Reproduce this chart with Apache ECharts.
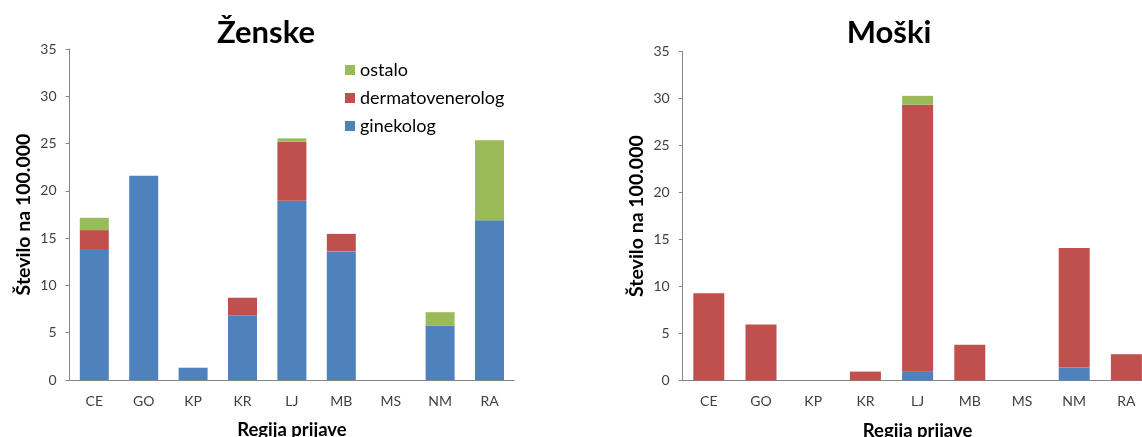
<!DOCTYPE html>
<html><head><meta charset="utf-8">
<script src="https://cdn.jsdelivr.net/npm/echarts@6/dist/echarts.min.js"></script>
<style>html,body{margin:0;padding:0;background:#fff}#c{width:1142px;height:437px}</style>
</head><body><div id="c"></div>
<script>
const categories = ['CE','GO','KP','KR','LJ','MB','MS','NM','RA'];
const seriesNames = ['ginekolog','dermatovenerolog','ostalo'];
// Ženske
const zGinekolog = [13.85, 21.6, 1.3, 6.8, 18.95, 13.6, 0, 5.75, 16.9];
const zDerm      = [2.0, 0, 0, 1.9, 6.25, 1.85, 0, 0, 0];
const zOstalo    = [1.3, 0, 0, 0, 0.35, 0, 0, 1.42, 8.45];
// Moški
const mGinekolog = [0, 0, 0, 0, 1.0, 0, 0, 1.4, 0];
const mDerm      = [9.3, 5.95, 0, 0.95, 28.35, 3.8, 0, 12.7, 2.8];
const mOstalo    = [0, 0, 0, 0, 0.95, 0, 0, 0, 0];
const titles = ['Ženske','Moški'];
const yName = 'Število na 100.000';
const xName = 'Regija prijave';

const colors = {ginekolog:'#4F81BD', dermatovenerolog:'#C0504D', ostalo:'#9BBB59'};
const font = 'Lato, "Open Sans", sans-serif';

function xAxis(i){
  return {gridIndex:i, type:'category', data:categories,
    axisLine:{lineStyle:{color:'#868686'}}, axisTick:{show:false},
    axisLabel:{color:'#404040', fontSize:14, fontFamily:font, margin:14},
    name:xName, nameLocation:'middle', nameGap:41,
    nameTextStyle:{fontWeight:'bold', fontSize:18.5, color:'#000', fontFamily:font}};
}
function yAxis(i){
  return {gridIndex:i, type:'value', min:0, max:35, interval:5,
    axisLine:{show:true, lineStyle:{color:'#868686'}},
    axisTick:{show:true, length:4, lineStyle:{color:'#868686'}},
    splitLine:{show:false},
    axisLabel:{color:'#404040', fontSize:14, fontFamily:font, margin:13},
    name:yName, nameLocation:'middle', nameGap:36,
    nameTextStyle:{fontWeight:'bold', fontSize:19.5, color:'#000', fontFamily:font}};
}
function bars(i, data, bw){
  return seriesNames.map((n, k) => ({
    name:n, type:'bar', stack:'s'+i, xAxisIndex:i, yAxisIndex:i,
    data:data[k], barWidth:bw, itemStyle:{color:colors[n]}
  }));
}

const chart = echarts.init(document.getElementById('c'), null, {renderer:'canvas'});
chart.setOption({
  animation:false,
  title:[
    {text:titles[0], left:261, top:12, textAlign:'center', textStyle:{fontSize:31, fontWeight:'bold', color:'#000', fontFamily:font}},
    {text:titles[1], left:884, top:12, textAlign:'center', textStyle:{fontSize:31, fontWeight:'bold', color:'#000', fontFamily:font}}
  ],
  legend:{data:['ostalo','dermatovenerolog','ginekolog'], orient:'vertical', left:340, top:56,
    itemWidth:10, itemHeight:10, itemGap:10, icon:'rect',
    textStyle:{fontSize:18, color:'#000', fontFamily:font}},
  grid:[
    {left:69.6, top:49, width:444.6, height:331, containLabel:false, outerBoundsMode:'none'},
    {left:682.7, top:51.7, width:469.8, height:328.8, containLabel:false, outerBoundsMode:'none'}
  ],
  xAxis:[xAxis(0), xAxis(1)],
  yAxis:[yAxis(0), yAxis(1)],
  series:[...bars(0,[zGinekolog,zDerm,zOstalo],29), ...bars(1,[mGinekolog,mDerm,mOstalo],31)]
});
</script></body></html>
